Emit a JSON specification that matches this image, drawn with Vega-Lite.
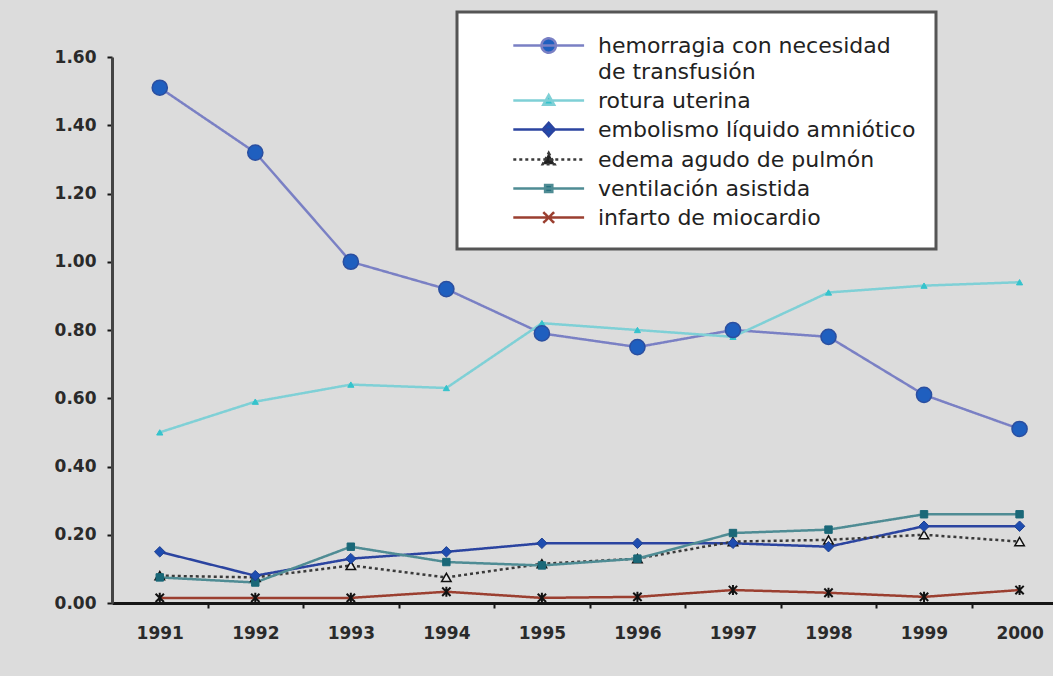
{
  "$schema": "https://vega.github.io/schema/vega-lite/v6.json",
  "autosize": {"type": "none"},
  "width": 941,
  "height": 546,
  "padding": {"left": 112, "top": 57, "right": 0, "bottom": 73},
  "background": "#dcdcdc",
  "config": {"view": {"stroke": null}, "font": "DejaVu Sans"},
  "data": {"values": [
    {"year": 1991, "serie": "hemorragia con necesidad de transfusión", "value": 1.51},
    {"year": 1992, "serie": "hemorragia con necesidad de transfusión", "value": 1.32},
    {"year": 1993, "serie": "hemorragia con necesidad de transfusión", "value": 1.00},
    {"year": 1994, "serie": "hemorragia con necesidad de transfusión", "value": 0.92},
    {"year": 1995, "serie": "hemorragia con necesidad de transfusión", "value": 0.79},
    {"year": 1996, "serie": "hemorragia con necesidad de transfusión", "value": 0.75},
    {"year": 1997, "serie": "hemorragia con necesidad de transfusión", "value": 0.80},
    {"year": 1998, "serie": "hemorragia con necesidad de transfusión", "value": 0.78},
    {"year": 1999, "serie": "hemorragia con necesidad de transfusión", "value": 0.61},
    {"year": 2000, "serie": "hemorragia con necesidad de transfusión", "value": 0.51},
    {"year": 1991, "serie": "rotura uterina", "value": 0.50},
    {"year": 1992, "serie": "rotura uterina", "value": 0.59},
    {"year": 1993, "serie": "rotura uterina", "value": 0.64},
    {"year": 1994, "serie": "rotura uterina", "value": 0.63},
    {"year": 1995, "serie": "rotura uterina", "value": 0.82},
    {"year": 1996, "serie": "rotura uterina", "value": 0.80},
    {"year": 1997, "serie": "rotura uterina", "value": 0.78},
    {"year": 1998, "serie": "rotura uterina", "value": 0.91},
    {"year": 1999, "serie": "rotura uterina", "value": 0.93},
    {"year": 2000, "serie": "rotura uterina", "value": 0.94},
    {"year": 1991, "serie": "embolismo líquido amniótico", "value": 0.15},
    {"year": 1992, "serie": "embolismo líquido amniótico", "value": 0.08},
    {"year": 1993, "serie": "embolismo líquido amniótico", "value": 0.13},
    {"year": 1994, "serie": "embolismo líquido amniótico", "value": 0.15},
    {"year": 1995, "serie": "embolismo líquido amniótico", "value": 0.175},
    {"year": 1996, "serie": "embolismo líquido amniótico", "value": 0.175},
    {"year": 1997, "serie": "embolismo líquido amniótico", "value": 0.175},
    {"year": 1998, "serie": "embolismo líquido amniótico", "value": 0.165},
    {"year": 1999, "serie": "embolismo líquido amniótico", "value": 0.225},
    {"year": 2000, "serie": "embolismo líquido amniótico", "value": 0.225},
    {"year": 1991, "serie": "edema agudo de pulmón", "value": 0.08},
    {"year": 1992, "serie": "edema agudo de pulmón", "value": 0.075},
    {"year": 1993, "serie": "edema agudo de pulmón", "value": 0.11},
    {"year": 1994, "serie": "edema agudo de pulmón", "value": 0.075},
    {"year": 1995, "serie": "edema agudo de pulmón", "value": 0.115},
    {"year": 1996, "serie": "edema agudo de pulmón", "value": 0.13},
    {"year": 1997, "serie": "edema agudo de pulmón", "value": 0.18},
    {"year": 1998, "serie": "edema agudo de pulmón", "value": 0.185},
    {"year": 1999, "serie": "edema agudo de pulmón", "value": 0.20},
    {"year": 2000, "serie": "edema agudo de pulmón", "value": 0.18},
    {"year": 1991, "serie": "ventilación asistida", "value": 0.075},
    {"year": 1992, "serie": "ventilación asistida", "value": 0.06},
    {"year": 1993, "serie": "ventilación asistida", "value": 0.165},
    {"year": 1994, "serie": "ventilación asistida", "value": 0.12},
    {"year": 1995, "serie": "ventilación asistida", "value": 0.11},
    {"year": 1996, "serie": "ventilación asistida", "value": 0.13},
    {"year": 1997, "serie": "ventilación asistida", "value": 0.205},
    {"year": 1998, "serie": "ventilación asistida", "value": 0.215},
    {"year": 1999, "serie": "ventilación asistida", "value": 0.26},
    {"year": 2000, "serie": "ventilación asistida", "value": 0.26},
    {"year": 1991, "serie": "infarto de miocardio", "value": 0.015},
    {"year": 1992, "serie": "infarto de miocardio", "value": 0.015},
    {"year": 1993, "serie": "infarto de miocardio", "value": 0.015},
    {"year": 1994, "serie": "infarto de miocardio", "value": 0.033},
    {"year": 1995, "serie": "infarto de miocardio", "value": 0.015},
    {"year": 1996, "serie": "infarto de miocardio", "value": 0.018},
    {"year": 1997, "serie": "infarto de miocardio", "value": 0.038},
    {"year": 1998, "serie": "infarto de miocardio", "value": 0.03},
    {"year": 1999, "serie": "infarto de miocardio", "value": 0.018},
    {"year": 2000, "serie": "infarto de miocardio", "value": 0.038}
  ]},
  "layer": [
    {
      "mark": {"type": "line", "strokeWidth": 2.5},
      "encoding": {
        "x": {"field": "year", "type": "quantitative",
          "scale": {"domain": [1990.5, 2000.35], "nice": false, "zero": false},
          "axis": {"values": [1991.5, 1992.5, 1993.5, 1994.5, 1995.5, 1996.5, 1997.5, 1998.5, 1999.5],
            "labels": false, "title": null, "grid": false, "orient": "bottom",
            "domainColor": "#151515", "domainWidth": 3, "tickColor": "#151515", "tickWidth": 2, "tickSize": 5}},
        "y": {"field": "value", "type": "quantitative",
          "scale": {"domain": [0, 1.6], "nice": false},
          "axis": {"values": [0, 0.2, 0.4, 0.6, 0.8, 1.0, 1.2, 1.4, 1.6], "format": ".2f", "title": null, "grid": false,
            "domainColor": "#444444", "domainWidth": 3, "tickColor": "#151515", "tickWidth": 2, "tickSize": 5,
            "labelFontSize": 17, "labelFontWeight": "bold", "labelColor": "#2a2a2a", "labelPadding": 11}},
        "color": {"field": "serie", "type": "nominal",
          "scale": {
            "domain": ["hemorragia con necesidad de transfusión", "rotura uterina", "embolismo líquido amniótico", "edema agudo de pulmón", "ventilación asistida", "infarto de miocardio"],
            "range": ["#7a80c4", "#7fd0d6", "#2b44a0", "#3a3a3a", "#4f8c94", "#9b3f30"]},
          "legend": {
            "orient": "none", "legendX": 345, "legendY": -45, "title": null,
            "fillColor": "#ffffff", "strokeColor": "#555555", "padding": 20,
            "symbolSize": 576, "symbolStrokeWidth": 2.5, "labelOffset": 94,
            "labelFontSize": 22, "labelColor": "#222222", "rowPadding": 4, "labelLimit": 500,
            "labelExpr": "datum.label == 'hemorragia con necesidad de transfusión' ? ['hemorragia con necesidad', 'de transfusión'] : datum.label",
            "encode": {
              "legend": {"update": {"strokeWidth": {"value": 3}}},
              "labels": {"update": {"lineHeight": {"value": 26}}},
              "symbols": {"update": {
                "shape": {"signal": "['M1.9,0H7.8M5.45,0A0.6,0.6 0 1,1 4.25,0A0.6,0.6 0 1,1 5.45,0Z', 'M1.9,0H7.8M4.85,-0.45L5.3,0.35L4.4,0.35Z', 'M1.9,0H7.8M4.85,-0.55L5.35,0L4.85,0.55L4.35,0Z', 'M1.9,0H7.8M4.85,-0.55L5.35,0.4L4.35,0.4Z', 'M1.9,0H7.8M4.55,-0.3H5.15V0.3H4.55Z', 'M1.9,0H7.8M4.4,-0.45L5.3,0.45M4.4,0.45L5.3,-0.45'][indexof(['hemorragia con necesidad de transfusión', 'rotura uterina', 'embolismo líquido amniótico', 'edema agudo de pulmón', 'ventilación asistida', 'infarto de miocardio'], datum.value)]"},
                "fill": {"signal": "['#1f5fbf', '#35c3cc', '#1e4db0', '#222222', '#1a6878', 'transparent'][indexof(['hemorragia con necesidad de transfusión', 'rotura uterina', 'embolismo líquido amniótico', 'edema agudo de pulmón', 'ventilación asistida', 'infarto de miocardio'], datum.value)]"},
                "stroke": {"signal": "['#7a80c4', '#7fd0d6', '#2b44a0', '#555555', '#4f8c94', '#4a2a28'][indexof(['hemorragia con necesidad de transfusión', 'rotura uterina', 'embolismo líquido amniótico', 'edema agudo de pulmón', 'ventilación asistida', 'infarto de miocardio'], datum.value)]"},
                "strokeDash": {"value": [1, 0]},
                "size": {"value": 576},
                "opacity": {"value": 1}
              }}
            }
          }},
        "strokeDash": {"field": "serie", "type": "nominal",
          "scale": {
            "domain": ["hemorragia con necesidad de transfusión", "rotura uterina", "embolismo líquido amniótico", "edema agudo de pulmón", "ventilación asistida", "infarto de miocardio"],
            "range": [[1, 0], [1, 0], [1, 0], [3, 3], [1, 0], [1, 0]]},
          "legend": null}
      }
    },
    {
      "transform": [{"filter": "datum.serie == 'infarto de miocardio'"}],
      "mark": {"type": "point", "shape": "M-1,-1L1,1M-1,1L1,-1M0,-1.2L0,1.2", "filled": false, "stroke": "#111111", "strokeWidth": 2, "size": 70, "opacity": 1},
      "encoding": {
        "x": {"field": "year", "type": "quantitative",
          "axis": {"values": [1991, 1992, 1993, 1994, 1995, 1996, 1997, 1998, 1999, 2000], "format": "d",
            "title": null, "grid": false, "orient": "bottom", "domain": false, "ticks": false,
            "labelFontSize": 17, "labelFontWeight": "bold", "labelColor": "#2a2a2a", "labelPadding": 22}},
        "y": {"field": "value", "type": "quantitative", "axis": null}
      }
    },
    {
      "transform": [{"filter": "datum.serie == 'edema agudo de pulmón'"}],
      "mark": {"type": "point", "shape": "triangle-up", "filled": true, "fill": "#e8e8e8", "stroke": "#111111", "strokeWidth": 1.5, "size": 90, "opacity": 1},
      "encoding": {
        "x": {"field": "year", "type": "quantitative", "axis": null},
        "y": {"field": "value", "type": "quantitative", "axis": null}
      }
    },
    {
      "transform": [{"filter": "datum.serie == 'ventilación asistida'"}],
      "mark": {"type": "point", "shape": "square", "filled": true, "fill": "#1a6878", "stroke": "#1a6878", "strokeWidth": 1, "size": 55, "opacity": 1},
      "encoding": {
        "x": {"field": "year", "type": "quantitative", "axis": null},
        "y": {"field": "value", "type": "quantitative", "axis": null}
      }
    },
    {
      "transform": [{"filter": "datum.serie == 'embolismo líquido amniótico'"}],
      "mark": {"type": "point", "shape": "diamond", "filled": true, "fill": "#1e4db0", "stroke": "#1e3f90", "strokeWidth": 1, "size": 110, "opacity": 1},
      "encoding": {
        "x": {"field": "year", "type": "quantitative", "axis": null},
        "y": {"field": "value", "type": "quantitative", "axis": null}
      }
    },
    {
      "transform": [{"filter": "datum.serie == 'rotura uterina'"}],
      "mark": {"type": "point", "shape": "triangle-up", "filled": true, "fill": "#35c3cc", "stroke": "#35c3cc", "strokeWidth": 1, "size": 38, "opacity": 1},
      "encoding": {
        "x": {"field": "year", "type": "quantitative", "axis": null},
        "y": {"field": "value", "type": "quantitative", "axis": null}
      }
    },
    {
      "transform": [{"filter": "datum.serie == 'hemorragia con necesidad de transfusión'"}],
      "mark": {"type": "point", "shape": "circle", "filled": true, "fill": "#1f5fbf", "stroke": "#2b4fa0", "strokeWidth": 1.5, "size": 230, "opacity": 1},
      "encoding": {
        "x": {"field": "year", "type": "quantitative", "axis": null},
        "y": {"field": "value", "type": "quantitative", "axis": null}
      }
    }
  ],
  "resolve": {"axis": {"x": "independent", "y": "independent"}}
}
